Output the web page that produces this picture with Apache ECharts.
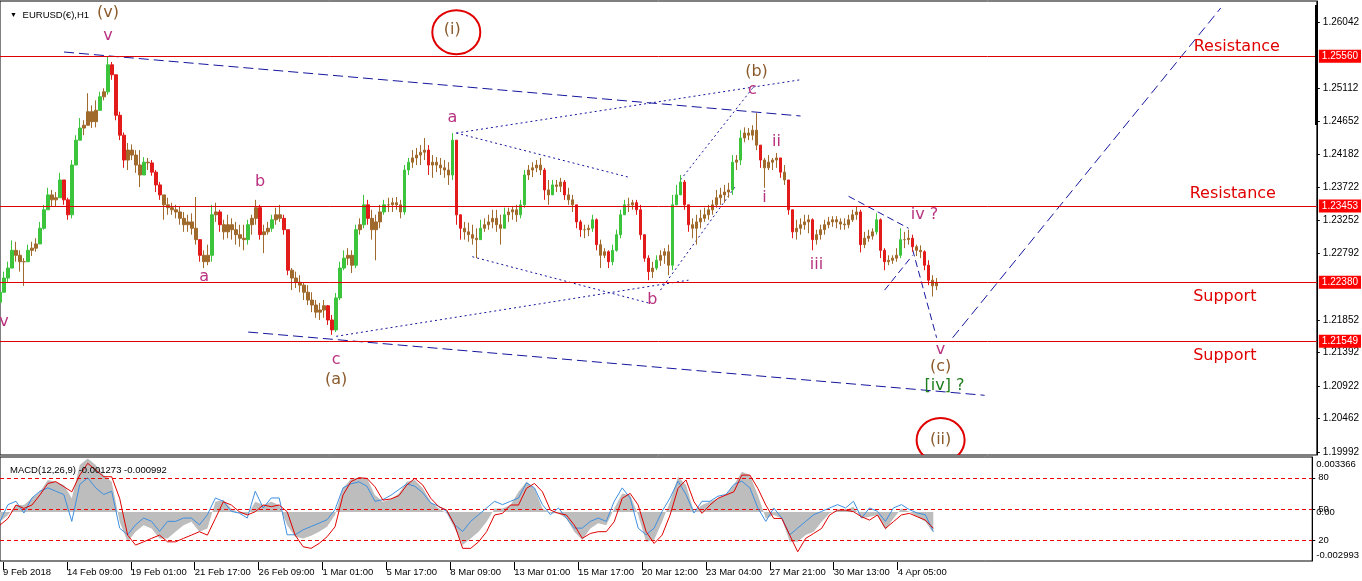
<!DOCTYPE html>
<html><head><meta charset="utf-8">
<script src="https://cdn.jsdelivr.net/npm/echarts@6/dist/echarts.min.js"></script>
<style>html,body{margin:0;padding:0;background:#fff}#c{width:1362px;height:581px}</style>
</head><body><div id="c"></div>
<script>
// ---------- data ----------
const xLabels = ['9 Feb 2018','14 Feb 09:00','19 Feb 01:00','21 Feb 17:00','26 Feb 09:00','1 Mar 01:00','5 Mar 17:00','8 Mar 09:00','13 Mar 01:00','15 Mar 17:00','20 Mar 12:00','23 Mar 04:00','27 Mar 21:00','30 Mar 13:00','4 Apr 05:00'];
const priceTicks = [1.19992,1.20462,1.20922,1.21392,1.21852,1.22792,1.23252,1.23722,1.24182,1.24652,1.25112,1.26042];
const levelPrices = [1.25560,1.23453,1.22380,1.21549];
const openFirst = 1.2210;
const highs = [
1.2227,1.2253,1.2267,1.2297,1.2295,1.2283,1.2272,1.2291,1.2295,1.2300,
1.2323,1.2347,1.2371,1.2368,1.2365,1.2392,1.2382,1.2357,1.2410,1.2445,
1.2469,1.2466,1.2504,1.2487,1.2494,1.2506,1.2511,1.2555,1.2548,1.2530,
1.2478,1.2449,1.2434,1.2432,1.2424,1.2424,1.2414,1.2413,1.2410,1.2396,
1.2379,1.2361,1.2357,1.2350,1.2347,1.2344,1.2337,1.2333,1.2335,1.2358,
1.2298,1.2283,1.2291,1.2347,1.2350,1.2340,1.2326,1.2333,1.2328,1.2323,
1.2319,1.2319,1.2326,1.2333,1.2354,1.2347,1.2319,1.2323,1.2333,1.2343,
1.2347,1.2333,1.2312,1.2258,1.2253,1.2248,1.2238,1.2234,1.2224,1.2213,
1.2209,1.2213,1.2206,1.2192,1.2223,1.2267,1.2283,1.2286,1.2283,1.2319,
1.2328,1.2361,1.2354,1.2340,1.2333,1.2347,1.2354,1.2357,1.2357,1.2358,
1.2354,1.2403,1.2413,1.2424,1.2427,1.2431,1.2441,1.2431,1.2417,1.2414,
1.2413,1.2410,1.2407,1.2448,1.2438,1.2333,1.2323,1.2322,1.2319,1.2314,
1.2326,1.2328,1.2333,1.2340,1.2340,1.2333,1.2343,1.2343,1.2345,1.2347,
1.2354,1.2396,1.2403,1.2407,1.2410,1.2413,1.2399,1.2382,1.2382,1.2382,
1.2385,1.2382,1.2371,1.2361,1.2347,1.2326,1.2319,1.2319,1.2333,1.2328,
1.2298,1.2286,1.2283,1.2291,1.2312,1.2340,1.2354,1.2357,1.2354,1.2354,
1.2347,1.2305,1.2276,1.2267,1.2276,1.2283,1.2286,1.2291,1.2361,1.2375,
1.2389,1.2382,1.2347,1.2328,1.2333,1.2340,1.2343,1.2347,1.2354,1.2368,
1.2371,1.2375,1.2378,1.2417,1.2417,1.2452,1.2456,1.2455,1.2459,1.2476,
1.2431,1.2413,1.2417,1.2413,1.2420,1.2410,1.2403,1.2382,1.2340,1.2326,
1.2328,1.2333,1.2333,1.2328,1.2312,1.2319,1.2326,1.2330,1.2331,1.2331,
1.2328,1.2328,1.2333,1.2340,1.2344,1.2340,1.2309,1.2312,1.2314,1.2335,
1.2328,1.2286,1.2276,1.2276,1.2286,1.2314,1.2309,1.2312,1.2305,1.2291,
1.2290,1.2283,1.2269,1.2248,1.2244];
const lows = [
1.2206,1.2224,1.2238,1.2267,1.2267,1.2253,1.2233,1.2267,1.2275,1.2281,
1.2292,1.2312,1.2340,1.2344,1.2345,1.2357,1.2347,1.2326,1.2328,1.2403,
1.2438,1.2445,1.2459,1.2455,1.2456,1.2480,1.2494,1.2502,1.2523,1.2466,
1.2438,1.2399,1.2396,1.2410,1.2392,1.2372,1.2389,1.2396,1.2388,1.2365,
1.2354,1.2326,1.2333,1.2333,1.2328,1.2319,1.2309,1.2309,1.2305,1.2291,
1.2267,1.2258,1.2262,1.2267,1.2323,1.2309,1.2298,1.2300,1.2298,1.2291,
1.2288,1.2283,1.2291,1.2305,1.2319,1.2298,1.2279,1.2305,1.2309,1.2319,
1.2323,1.2305,1.2248,1.2227,1.2230,1.2224,1.2213,1.2206,1.2196,1.2188,
1.2185,1.2188,1.2178,1.2164,1.2168,1.2213,1.2255,1.2262,1.2251,1.2258,
1.2305,1.2314,1.2319,1.2298,1.2269,1.2314,1.2333,1.2337,1.2337,1.2340,
1.2328,1.2333,1.2389,1.2399,1.2403,1.2403,1.2410,1.2389,1.2385,1.2393,
1.2389,1.2385,1.2375,1.2382,1.2319,1.2298,1.2298,1.2295,1.2291,1.2272,
1.2300,1.2309,1.2312,1.2314,1.2309,1.2291,1.2319,1.2323,1.2326,1.2323,
1.2328,1.2343,1.2382,1.2386,1.2393,1.2389,1.2354,1.2347,1.2361,1.2365,
1.2365,1.2354,1.2347,1.2337,1.2314,1.2302,1.2300,1.2303,1.2309,1.2283,
1.2258,1.2272,1.2258,1.2262,1.2281,1.2300,1.2333,1.2337,1.2340,1.2333,
1.2298,1.2267,1.2241,1.2244,1.2255,1.2261,1.2264,1.2248,1.2255,1.2347,
1.2361,1.2340,1.2309,1.2300,1.2291,1.2314,1.2323,1.2326,1.2333,1.2343,
1.2347,1.2350,1.2357,1.2361,1.2396,1.2403,1.2435,1.2438,1.2438,1.2424,
1.2399,1.2371,1.2396,1.2396,1.2399,1.2385,1.2375,1.2333,1.2300,1.2298,
1.2305,1.2312,1.2307,1.2283,1.2291,1.2298,1.2305,1.2314,1.2316,1.2314,
1.2312,1.2312,1.2314,1.2323,1.2326,1.2280,1.2286,1.2295,1.2298,1.2305,
1.2272,1.2255,1.2262,1.2264,1.2267,1.2272,1.2286,1.2291,1.2281,1.2275,
1.2272,1.2255,1.2234,1.2218,1.2227];
const closes = [
1.2224,1.2244,1.2258,1.2283,1.2276,1.2267,1.2267,1.2283,1.2286,1.2292,
1.2314,1.2340,1.2361,1.2354,1.2357,1.2382,1.2354,1.2333,1.2403,1.2438,
1.2455,1.2459,1.2478,1.2464,1.2480,1.2499,1.2506,1.2544,1.2530,1.2473,
1.2445,1.2410,1.2424,1.2417,1.2403,1.2389,1.2407,1.2406,1.2393,1.2375,
1.2361,1.2347,1.2343,1.2340,1.2337,1.2328,1.2319,1.2323,1.2314,1.2298,
1.2276,1.2267,1.2276,1.2333,1.2337,1.2319,1.2309,1.2319,1.2312,1.2305,
1.2300,1.2298,1.2319,1.2328,1.2343,1.2305,1.2309,1.2314,1.2326,1.2333,
1.2328,1.2312,1.2255,1.2244,1.2238,1.2234,1.2224,1.2213,1.2206,1.2196,
1.2199,1.2205,1.2185,1.2171,1.2216,1.2258,1.2272,1.2276,1.2262,1.2312,
1.2319,1.2347,1.2328,1.2312,1.2323,1.2337,1.2347,1.2347,1.2350,1.2347,
1.2337,1.2396,1.2407,1.2413,1.2417,1.2421,1.2424,1.2403,1.2407,1.2403,
1.2399,1.2396,1.2389,1.2438,1.2333,1.2314,1.2309,1.2305,1.2300,1.2298,
1.2314,1.2319,1.2323,1.2328,1.2319,1.2314,1.2333,1.2337,1.2340,1.2333,
1.2347,1.2389,1.2396,1.2399,1.2403,1.2396,1.2368,1.2361,1.2375,1.2373,
1.2379,1.2361,1.2354,1.2347,1.2323,1.2312,1.2312,1.2314,1.2326,1.2291,
1.2276,1.2281,1.2267,1.2283,1.2305,1.2333,1.2347,1.2347,1.2350,1.2340,
1.2305,1.2272,1.2253,1.2258,1.2269,1.2276,1.2281,1.2262,1.2347,1.2361,
1.2379,1.2347,1.2319,1.2314,1.2323,1.2328,1.2333,1.2340,1.2347,1.2357,
1.2361,1.2365,1.2368,1.2407,1.2410,1.2441,1.2448,1.2445,1.2452,1.2431,
1.2410,1.2399,1.2407,1.2410,1.2413,1.2393,1.2382,1.2340,1.2309,1.2314,
1.2319,1.2323,1.2326,1.2298,1.2305,1.2312,1.2319,1.2323,1.2326,1.2323,
1.2320,1.2319,1.2326,1.2333,1.2337,1.2291,1.2300,1.2303,1.2309,1.2326,
1.2283,1.2267,1.2269,1.2272,1.2276,1.2298,1.2298,1.2300,1.2288,1.2283,
1.2281,1.2262,1.2241,1.2233,1.2238];

const macdMain = [
-0.00059,-0.00018,0.00043,0.00043,0.00084,0.00124,0.00196,0.00186,0.00165,0.00084,
0.00288,0.00328,0.00288,0.00226,0.00186,-0.00059,-0.00182,-0.00120,-0.00080,-0.00100,
-0.00161,-0.00161,-0.00120,-0.00080,-0.00059,-0.00120,-0.00100,0.00063,0.00073,0.00022,
-0.00008,-0.00018,0.00063,0.00043,0.00063,0.00043,-0.00080,-0.00151,-0.00161,-0.00145,
-0.00120,-0.00090,-0.00018,0.00145,0.00202,0.00212,0.00206,0.00104,0.00063,0.00078,
0.00114,0.00186,0.00196,0.00145,0.00063,0.00022,-0.00008,-0.00100,-0.00202,-0.00161,
-0.00120,-0.00059,0.00022,0.00022,0.00043,0.00124,0.00186,0.00145,0.00022,-0.00008,
-0.00008,-0.00039,-0.00120,-0.00171,-0.00100,-0.00069,-0.00080,0.00022,0.00114,0.00104,
-0.00018,-0.00182,-0.00171,-0.00059,0.00063,0.00216,0.00165,0.00002,0.00043,0.00063,
0.00084,0.00104,0.00165,0.00247,0.00226,0.00104,-0.00039,-0.00018,-0.00039,-0.00182,
-0.00182,-0.00141,-0.00120,-0.00059,-0.00008,0.00012,0.00012,0.00033,-0.00039,-0.00029,
-0.00018,-0.00110,-0.00039,0.00022,0.00002,-0.00029,-0.00059,-0.00127];
const macdSignal = [
-0.00080,-0.00039,0.00043,0.00022,0.00043,0.00104,0.00175,0.00186,0.00155,0.00124,
0.00226,0.00298,0.00257,0.00216,0.00216,0.00084,-0.00141,-0.00202,-0.00182,-0.00161,
-0.00141,-0.00182,-0.00182,-0.00161,-0.00141,-0.00120,-0.00141,-0.00039,0.00063,0.00043,
0.00002,-0.00018,0.00002,0.00043,0.00033,0.00043,0.00002,-0.00141,-0.00212,-0.00222,
-0.00192,-0.00151,-0.00090,0.00104,0.00186,0.00210,0.00206,0.00155,0.00073,0.00080,
0.00100,0.00165,0.00206,0.00165,0.00084,0.00033,0.00012,-0.00080,-0.00222,-0.00222,
-0.00182,-0.00120,-0.00018,-0.00008,0.00043,0.00043,0.00145,0.00175,0.00124,0.00012,
-0.00008,-0.00018,-0.00080,-0.00161,-0.00131,-0.00120,-0.00120,-0.00059,0.00084,0.00114,
0.00043,-0.00120,-0.00192,-0.00141,-0.00018,0.00145,0.00196,0.00063,-0.00008,0.00043,
0.00084,0.00104,0.00124,0.00226,0.00226,0.00145,0.00043,-0.00039,-0.00039,-0.00141,
-0.00243,-0.00161,-0.00131,-0.00100,-0.00018,0.00012,0.00012,0.00002,-0.00029,-0.00049,
-0.00018,-0.00100,-0.00059,-0.00018,-0.00008,-0.00029,-0.00049,-0.00099];
const oscLine = [
38.1,54.2,57.4,46.1,60.6,67.1,70.3,67.1,63.9,38.1,
73.6,80.0,70.3,63.9,67.1,31.6,25.2,34.8,41.3,38.1,
28.4,38.1,38.1,41.3,41.3,34.8,44.5,60.6,57.4,47.7,
46.1,41.3,67.1,51.0,60.6,60.6,25.2,25.2,30.0,33.2,
36.4,39.7,49.4,70.3,74.2,76.1,71.9,57.4,59.0,63.2,
68.7,74.2,71.9,65.5,55.8,52.6,47.7,34.8,28.4,38.1,
44.5,51.0,57.4,54.2,57.4,60.6,75.2,70.3,54.2,44.5,
51.0,41.3,31.6,31.6,38.1,41.3,38.1,57.4,70.3,60.6,
31.6,25.2,31.6,47.7,60.6,76.8,63.9,46.1,57.4,57.4,
62.3,63.9,73.6,76.8,70.3,51.0,38.1,51.0,41.3,25.2,
31.6,38.1,44.5,47.7,51.0,54.2,51.0,57.4,41.3,51.0,
47.7,38.1,51.0,54.2,49.4,46.1,44.5,28.4];
const oscLevels = [20,50,80];
const macdRange = [-0.002993, 0.003366];

// wave annotations: [text, kind, bar index, price]
const waveLabels = [
['(v)','deg',27,1.2617],['v','sub',27,1.2585],['(i)','deg',113,1.2593],['a','sub',113,1.2469],
['b','sub',65,1.2379],['a','sub',51,1.2245],['c','sub',84,1.2129],['(a)','deg',84,1.2101],
['b','sub',163,1.2213],['(b)','deg',189,1.2534],['c','sub',188,1.2509],['ii','sub',194,1.2435],
['i','sub',191,1.2357],['iii','sub',204,1.2262],['iv ?','sub',231,1.2333],['v','sub',235,1.2143],
['(c)','deg',235,1.2119],['[iv] ?','minor',236,1.2092],['(ii)','deg',235,1.2016],['v','sub',1,1.2182],
['Resistance','zone',309,1.2569],['Resistance','zone',308,1.2362],['Support','zone',306,1.2217],['Support','zone',306,1.2134]];
const circledWaves = [[114,1.2590],[235,1.2016]];
// trend lines: [bar1, price1, bar2, price2]
const trendLines = [
[16,1.2562,200,1.2472],[62,1.2168,246,1.2079],
[84,1.2162,172,1.2241],[114,1.2448,200,1.2523],[114,1.2448,157,1.2386],[118,1.2274,162,1.2209],
[170,1.2382,188,1.2511],[165,1.2227,184,1.2375],
[212,1.2359,227,1.2314],[221,1.2227,228,1.2276],[228,1.2284,234,1.2160],[238,1.2160,305,1.2624]];
const trendKinds = ['long','long','dot','dot','dot','dot','dot','dot','short','short','short','long'];

// ---------- build ----------
const N = 330;
const cats = Array.from({length:N},(_,i)=>String(i));
const UP = '#3cc43c', DOWN = '#e21a1a', MIXED = '#a06a2c';
const candles = closes.map((c,i)=>{
  const o = i===0 ? openFirst : closes[i-1];
  const l = Math.min(lows[i],o,c), h = Math.max(highs[i],o,c);
  const item = {value:[o, c, l, h]};
  if (h > l && Math.abs(c - o) / (h - l) < 0.45) {
    item.itemStyle = {color:MIXED, color0:MIXED, borderColor:MIXED, borderColor0:MIXED};
  }
  return item;
});
const kindStyle = {
  deg:{color:'#8b5a2b',size:16}, sub:{color:'#b8327f',size:16},
  minor:{color:'#1e7d1e',size:16}, zone:{color:'#e00000',size:16}
};
const dashFor = {long:[10,5], dot:[2,3], short:[7,4]};
const FONT = 'Liberation Sans';
const showTime = (i)=> i%16===0 && i/16 < xLabels.length;

const chart = echarts.init(document.getElementById('c'), null, {renderer:'canvas'});
chart.setOption({
  animation:false,
  backgroundColor:'#fff',
  title:[
    {text:'{t|▼} EURUSD(€),H1', left:5, top:5, textStyle:{fontSize:9.5, fontWeight:'normal', color:'#000', fontFamily:FONT, rich:{t:{fontSize:7, color:'#000', padding:[0,3,0,0]}}}},
    {text:'MACD(12,26,9) -0.001273 -0.000992', left:5, top:460, textStyle:{fontSize:9.5, fontWeight:'normal', color:'#000', fontFamily:FONT}}
  ],
  grid:[
    {left:0, right:45, top:1, height:454, show:true, borderColor:'#000', borderWidth:1, backgroundColor:'#fff'},
    {left:0, right:45, top:457, height:104, show:true, borderColor:'#000', borderWidth:1, backgroundColor:'#fff'},
    {left:0, right:45, top:562, height:8, show:false}
  ],
  xAxis:[
    {type:'category', gridIndex:0, data:cats, boundaryGap:false, show:false},
    {type:'category', gridIndex:1, data:cats, boundaryGap:false, show:false},
    {type:'category', gridIndex:2, data:cats, boundaryGap:false, position:'bottom',
     axisLine:{show:false, onZero:false},
     axisTick:{show:false},
     axisLabel:{interval:showTime, formatter:(v,i)=> xLabels[i/16] || '', align:'left', margin:-3, fontSize:9.5, color:'#000', fontFamily:FONT},
     splitLine:{show:true, interval:showTime, lineStyle:{color:'#000', width:1}}}
  ],
  yAxis:[
    {type:'value', gridIndex:0, position:'right', min:1.19950, max:1.26338,
     axisLine:{show:true, onZero:false, lineStyle:{color:'#000'}},
     axisTick:{show:true, length:3, customValues:priceTicks, lineStyle:{color:'#000'}},
     axisLabel:{customValues:priceTicks, formatter:(v)=>v.toFixed(5), margin:6, fontSize:10, color:'#000', fontFamily:FONT},
     splitLine:{show:false}},
    {type:'value', gridIndex:1, position:'right', min:macdRange[0], max:macdRange[1],
     axisLine:{show:true, onZero:false, lineStyle:{color:'#000'}},
     axisTick:{show:false},
     axisLabel:{customValues:[macdRange[1],0,macdRange[0]], margin:4, fontSize:9.5, color:'#000', fontFamily:FONT,
       formatter:(v)=> v>0 ? '{t|'+v.toFixed(6)+'}' : (v<0 ? '{b|'+v.toFixed(6)+'}' : '0.00'),
       rich:{t:{padding:[14,0,0,0], fontSize:9.5, fontFamily:FONT, color:'#000'}, b:{padding:[0,0,11,0], fontSize:9.5, fontFamily:FONT, color:'#000'}}},
     splitLine:{show:false}},
    {type:'value', gridIndex:1, position:'right', min:0, max:100,
     axisLine:{show:false, onZero:false},
     axisTick:{show:true, length:3, customValues:oscLevels, lineStyle:{color:'#000'}},
     axisLabel:{customValues:oscLevels, margin:6, fontSize:9.5, color:'#000', fontFamily:FONT},
     splitLine:{show:false}},
    {type:'value', gridIndex:2, show:false, min:1, max:2}
  ],
  series:[
    {type:'candlestick', xAxisIndex:0, yAxisIndex:0, data:candles, barWidth:3,
     itemStyle:{color:UP, color0:DOWN, borderColor:UP, borderColor0:DOWN, borderWidth:1},
     markLine:{symbol:['none','none'], silent:true, animation:false, precision:5,
       lineStyle:{color:'#dd0000', type:'solid', width:1},
       label:{position:'end', distance:2, formatter:(p)=>Number(p.value).toFixed(5), backgroundColor:'#ff0000', color:'#fff', padding:[2,3,1,3], fontSize:10, fontFamily:FONT},
       data:levelPrices.map(v=>({yAxis:v}))}},
    {type:'custom', xAxisIndex:0, yAxisIndex:0, clip:true, silent:true,
     encode:{x:[0,2], y:[1,3]},
     data:trendLines,
     renderItem:(params, api)=>{
       const a = api.coord([api.value(0), api.value(1)]);
       const b = api.coord([api.value(2), api.value(3)]);
       return {type:'line', shape:{x1:a[0], y1:a[1], x2:b[0], y2:b[1]},
         style:{stroke:'#16169e', lineWidth:1, lineDash:dashFor[trendKinds[params.dataIndex]]}};
     }},
    {type:'custom', xAxisIndex:0, yAxisIndex:0, clip:true, silent:true,
     encode:{x:0, y:1}, data:circledWaves,
     renderItem:(params, api)=>{
       const c = api.coord([api.value(0), api.value(1)]);
       return {type:'ellipse', shape:{cx:c[0], cy:c[1], rx:24, ry:22}, style:{fill:null, stroke:'#e00000', lineWidth:2}};
     }},
    {type:'custom', xAxisIndex:0, yAxisIndex:0, silent:true,
     encode:{x:0, y:1}, data:waveLabels.map(w=>[w[2], w[3]]),
     renderItem:(params, api)=>{
       const w = waveLabels[params.dataIndex];
       const st = kindStyle[w[1]];
       const c = api.coord([api.value(0), api.value(1)]);
       return {type:'text', x:c[0], y:c[1], style:{text:w[0], fill:st.color, fontSize:st.size, fontFamily:'DejaVu Sans', align:'center', verticalAlign:'middle'}};
     }},
    {type:'line', xAxisIndex:1, yAxisIndex:1, data:macdMain.map((v,j)=>[2*j, v]), showSymbol:false, symbol:'none',
     lineStyle:{opacity:0, width:1, color:'#bdbdbd'}, areaStyle:{color:'#bdbdbd', opacity:1}, z:1},
    {type:'custom', xAxisIndex:1, yAxisIndex:2, silent:true, z:3,
     encode:{y:0}, data:oscLevels.map(v=>[v]),
     renderItem:(params, api)=>{
       const y = Math.round(api.coord([0, api.value(0)])[1]) + 0.5;
       const cs = params.coordSys;
       return {type:'line', shape:{x1:cs.x, y1:y, x2:cs.x + cs.width, y2:y},
         style:{stroke:'#ee0000', lineWidth:1, lineDash:[4,3]}};
     }},
    {type:'line', xAxisIndex:1, yAxisIndex:2, data:oscLine.map((v,j)=>[2*j, v]), showSymbol:false, symbol:'none',
     lineStyle:{width:1, color:'#3d8fe0'}, z:4},
    {type:'line', xAxisIndex:1, yAxisIndex:1, data:macdSignal.map((v,j)=>[2*j, v]), showSymbol:false, symbol:'none',
     lineStyle:{width:1, color:'#e00000'}, z:5}
  ],
  graphic:[{type:'rect', shape:{x:1315, y:5, width:3, height:120}, style:{fill:'#000'}, z:10}]
});
</script></body></html>
